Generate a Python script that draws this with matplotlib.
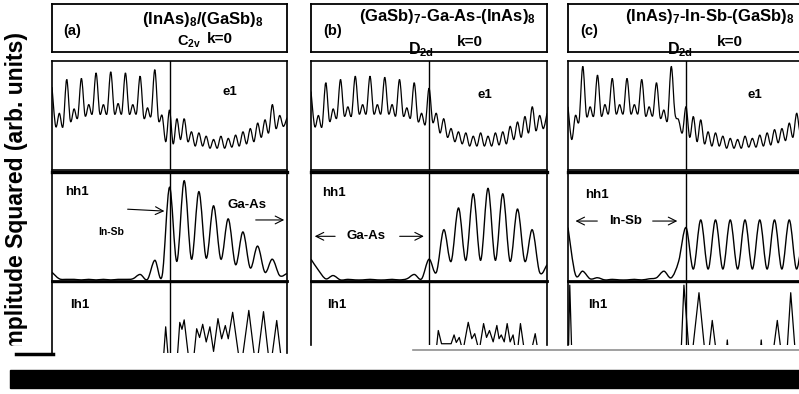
import numpy as np
import matplotlib
matplotlib.use('Agg')
import matplotlib.pyplot as plt
from matplotlib.patches import Rectangle, PathPatch
from matplotlib.lines import Line2D
from matplotlib.path import Path

plt.rcParams['font.family'] = ['Liberation Sans', 'DejaVu Sans']
plt.rcParams['font.weight'] = 'bold'
plt.rcParams['mathtext.fontset'] = 'custom'
plt.rcParams['mathtext.rm'] = 'Liberation Sans:bold'
plt.rcParams['mathtext.bf'] = 'Liberation Sans:bold'
plt.rcParams['mathtext.it'] = 'Liberation Sans:bold'
plt.rcParams['mathtext.default'] = 'rm'

# ---------------------------------------------------------------
#   data: |psi|^2, x in monolayers (0..16)
# ---------------------------------------------------------------
# e1: per monolayer [peak, dip, side-bump, dip], sampled every 1/4 ML
e1_a = [[0.76, 0.40, 0.52, 0.40], [0.83, 0.45, 0.56, 0.48], [0.84, 0.50, 0.60, 0.52],
        [0.89, 0.52, 0.60, 0.52], [0.90, 0.52, 0.61, 0.52], [0.89, 0.52, 0.60, 0.52],
        [0.86, 0.48, 0.57, 0.50], [0.92, 0.46, 0.50, 0.26], [0.55, 0.24, 0.47, 0.28],
        [0.47, 0.26, 0.35, 0.22], [0.34, 0.22, 0.31, 0.20], [0.28, 0.20, 0.31, 0.20],
        [0.29, 0.21, 0.32, 0.22], [0.35, 0.24, 0.38, 0.26], [0.43, 0.30, 0.46, 0.34],
        [0.60, 0.38, 0.50, 0.40], [0.48]]
e1_b = [[0.72, 0.40, 0.50, 0.40], [0.80, 0.45, 0.56, 0.48], [0.83, 0.50, 0.58, 0.50],
        [0.86, 0.52, 0.60, 0.52], [0.86, 0.52, 0.60, 0.52], [0.85, 0.52, 0.60, 0.50],
        [0.83, 0.50, 0.57, 0.48], [0.80, 0.45, 0.52, 0.42], [0.75, 0.44, 0.52, 0.34],
        [0.47, 0.30, 0.38, 0.26], [0.35, 0.24, 0.34, 0.22], [0.31, 0.22, 0.34, 0.22],
        [0.31, 0.22, 0.34, 0.23], [0.35, 0.24, 0.40, 0.28], [0.44, 0.30, 0.49, 0.34],
        [0.58, 0.36, 0.50, 0.38], [0.52]]
e1_c = [[0.58, 0.28, 0.50, 0.45], [0.95, 0.50, 0.58, 0.50], [0.87, 0.50, 0.60, 0.52],
        [0.84, 0.52, 0.60, 0.52], [0.84, 0.52, 0.60, 0.52], [0.83, 0.50, 0.58, 0.50],
        [0.80, 0.48, 0.55, 0.46], [0.95, 0.52, 0.46, 0.34], [0.58, 0.30, 0.49, 0.26],
        [0.46, 0.24, 0.35, 0.22], [0.34, 0.22, 0.31, 0.20], [0.29, 0.20, 0.28, 0.20],
        [0.31, 0.21, 0.29, 0.21], [0.32, 0.22, 0.34, 0.23], [0.37, 0.25, 0.38, 0.27],
        [0.43, 0.30, 0.52, 0.35], [0.60]]

# hh1: sampled every 1/2 ML
hh1_a = [0.08, 0.02, 0.015, 0.015, 0.01, 0.015, 0.01, 0.015, 0.01, 0.015, 0.015,
         0.02, 0.06, 0.015, 0.19, 0.05, 0.86, 0.18, 0.92, 0.20, 0.82, 0.21, 0.69,
         0.20, 0.57, 0.15, 0.45, 0.12, 0.32, 0.08, 0.20, 0.05, 0.07]
hh1_b = [0.20, 0.10, 0.02, 0.05, 0.01, 0.015, 0.01, 0.01, 0.015, 0.01, 0.01,
         0.015, 0.01, 0.02, 0.06, 0.02, 0.20, 0.08, 0.47, 0.18, 0.67, 0.19, 0.80,
         0.19, 0.85, 0.19, 0.80, 0.18, 0.66, 0.18, 0.47, 0.08, 0.15]
hh1_c = [0.49, 0.06, 0.09, 0.02, 0.03, 0.01, 0.015, 0.01, 0.01, 0.015, 0.01,
         0.02, 0.03, 0.09, 0.03, 0.18, 0.49, 0.11, 0.56, 0.11, 0.56, 0.11, 0.56,
         0.11, 0.56, 0.11, 0.56, 0.11, 0.56, 0.11, 0.56, 0.11, 0.56]

# lh1: only the tops of the peaks survive in the scan
lh1_a_x = [0, 7.5, 7.74, 7.95, 8.5, 8.7, 8.85, 9.0, 9.35, 9.65, 9.85, 10.05, 10.26, 10.5,
           10.75, 11.0, 11.3, 11.55, 11.8, 12.0, 12.3, 12.85, 13.4, 13.9, 14.4, 14.85,
           15.3, 15.7, 16]
lh1_a_y = [-0.5, -0.5, 0.29, -0.3, -0.3, 0.36, 0.25, 0.40, -0.3, -0.2, 0.26, 0.12, 0.33,
           0.05, 0.29, -0.1, 0.42, 0.10, 0.31, 0.10, 0.52, -0.4, 0.55, -0.4, 0.53, -0.4,
           0.39, -0.4, -0.5]
lh1_b_x = [0, 8.3, 8.63, 8.85, 9.5, 9.7, 9.85, 10.05, 10.3, 10.66, 10.9, 11.1, 11.4, 11.7,
           11.9, 12.1, 12.35, 12.6, 12.75, 12.9, 13.1, 13.3, 13.5, 13.7, 13.95, 14.2,
           14.65, 15.2, 15.6, 16]
lh1_b_y = [-0.5, -0.5, 0.23, 0.02, 0.02, 0.16, 0.04, 0.12, -0.1, 0.36, 0.10, 0.18, -0.1,
           0.34, 0.12, 0.23, 0.05, 0.31, 0.10, 0.16, 0.05, 0.34, 0.05, 0.16, -0.2, 0.34,
           -0.4, 0.18, -0.4, -0.5]
lh1_c_x = [0, 0.12, 0.3, 7.6, 7.86, 8.3, 8.88, 9.4, 9.78, 10.2, 10.65, 10.8, 10.95, 12.95,
           13.1, 13.25, 13.75, 14.19, 14.6, 14.85, 15.1, 15.4, 16]
lh1_c_y = [-0.5, 0.95, -0.5, -0.5, 0.95, -0.4, 0.83, -0.4, 0.39, -0.4, -0.4, 0.08, -0.4,
           -0.4, 0.08, -0.4, -0.4, 0.39, -0.4, -0.1, 0.83, -0.1, -0.5]

tags = ['(a)', '(b)', '(c)']
structures = ['(InAs)$_8$/(GaSb)$_8$', '(GaSb)$_7$-Ga-As-(InAs)$_8$', '(InAs)$_7$-In-Sb-(GaSb)$_8$']
symmetry = ['C$_{2v}$', 'D$_{2d}$', 'D$_{2d}$']
interface = 8

e1_all = [e1_a, e1_b, e1_c]
hh1_all = [hh1_a, hh1_b, hh1_c]
lh1_all = [(lh1_a_x, lh1_a_y), (lh1_b_x, lh1_b_y), (lh1_c_x, lh1_c_y)]

# ---------------------------------------------------------------
#   layout (pixels of the 799x394 picture)
# ---------------------------------------------------------------
W, H = 799, 394
fig = plt.figure(figsize=(W / 100, H / 100), dpi=100)


def box(x0, y0, x1, y1):
    return [x0 / W, 1 - y1 / H, (x1 - x0) / W, (y1 - y0) / H]


def fxy(x, y):
    return x / W, 1 - y / H


def smooth(ax, x, y, lw=0.9):
    # smooth line through the points (Catmull-Rom drawn as bezier segments)
    pts = np.column_stack([x, y]).astype(float)
    ext = np.vstack([pts[0], pts, pts[-1]])
    verts, codes = [pts[0]], [Path.MOVETO]
    for i in range(len(pts) - 1):
        p0, p1, p2, p3 = ext[i], ext[i + 1], ext[i + 2], ext[i + 3]
        verts += [p1 + (p2 - p0) / 6, p2 - (p3 - p1) / 6, p2]
        codes += [Path.CURVE4] * 3
    ax.add_patch(PathPatch(Path(verts, codes), fill=False, ec='k', lw=lw))


cols = [(52, 287), (311, 547), (568, 804)]
lh1_bottom = [353, 345, 345]
sym_pos = [(0.53, 0.22), (0.41, 0.05), (0.42, 0.05)]
sym_size = [10.5, 11.5, 11.5]
k_pos = [(0.66, 0.28), (0.62, 0.20), (0.63, 0.20)]
head_y = [0.67, 0.73, 0.73]
head_x = [0.64, 0.577, 0.60]
e1_lab = [(0.757, 0.72), (0.737, 0.69), (0.79, 0.69)]
hh1_lab = [(0.055, 0.82), (0.047, 0.81), (0.072, 0.79)]
lh1_lab = [(0.077, 0.68), (0.068, 0.635), (0.085, 0.635)]


def clean(ax, lw=1.2):
    ax.set_xticks([])
    ax.set_yticks([])
    for s in ax.spines.values():
        s.set_linewidth(lw)
    ax.set_xlim(0, 16)


x_e1 = np.arange(65) / 4
x_hh1 = np.arange(33) / 2
arr = dict(arrowstyle='->', lw=0.8, color='k', mutation_scale=14)

for j, (x0, x1) in enumerate(cols):
    # header box
    hd = fig.add_axes(box(x0, 4, x1, 52))
    clean(hd, 1.3)
    hd.text(0.05, 0.44, tags[j], transform=hd.transAxes, fontsize=10.5, va='center', ha='left')
    hd.text(head_x[j], head_y[j], structures[j], transform=hd.transAxes, fontsize=12,
            va='center', ha='center')
    hd.text(*sym_pos[j], symmetry[j], transform=hd.transAxes, fontsize=sym_size[j],
            va='center', ha='left')
    hd.text(*k_pos[j], 'k=0', transform=hd.transAxes, fontsize=11, va='center', ha='left')

    # e1
    ax = fig.add_axes(box(x0, 61, x1, 170))
    clean(ax)
    y = np.concatenate([np.ravel(r) for r in e1_all[j]])
    smooth(ax, x_e1, y)
    ax.axvline(interface, color='k', lw=1)
    ax.set_ylim(0, 1)
    ax.text(*e1_lab[j], 'e1', transform=ax.transAxes, fontsize=9.5, ha='center', va='center')

    # hh1
    ax = fig.add_axes(box(x0, 172, x1, 281))
    clean(ax)
    ax.spines['top'].set_linewidth(2.4)
    ax.spines['bottom'].set_linewidth(2.0)
    smooth(ax, x_hh1, hh1_all[j], lw=1.0)
    ax.axvline(interface, color='k', lw=1)
    ax.set_ylim(0, 1)
    ax.text(*hh1_lab[j], 'hh1', transform=ax.transAxes, fontsize=9.5, ha='left', va='center')
    if j == 0:
        ax.annotate('', xy=(0.49, 0.64), xytext=(0.31, 0.66), xycoords='axes fraction', arrowprops=arr)
        ax.text(0.25, 0.45, 'In-Sb', transform=ax.transAxes, fontsize=7.5, ha='center', va='center')
        ax.text(0.83, 0.70, 'Ga-As', transform=ax.transAxes, fontsize=9.5, ha='center', va='center')
        ax.annotate('', xy=(1.0, 0.56), xytext=(0.855, 0.56), xycoords='axes fraction', arrowprops=arr)
    else:
        name = 'Ga-As' if j == 1 else 'In-Sb'
        yy = 0.41 if j == 1 else 0.55
        lx = [(0.114, 0.004, 0.233, 0.364, 0.49), (0.136, 0.02, 0.246, 0.347, 0.475)][j - 1]
        ax.annotate('', xy=(lx[1], yy), xytext=(lx[0], yy), xycoords='axes fraction', arrowprops=arr)
        ax.text(lx[2], yy, name, transform=ax.transAxes, fontsize=9.5, ha='center', va='center')
        ax.annotate('', xy=(lx[4], yy), xytext=(lx[3], yy), xycoords='axes fraction', arrowprops=arr)

    # lh1 (bottom part lost in the scan)
    ax = fig.add_axes(box(x0, 282, x1, lh1_bottom[j]))
    clean(ax)
    ax.spines['bottom'].set_visible(False)
    ax.spines['top'].set_linewidth(1.0)
    ax.plot(*lh1_all[j], color='k', lw=0.9)
    ax.axvline(interface, color='k', lw=1)
    ax.set_ylim(-(lh1_bottom[j] - 345) / 64, 1)
    ax.text(*lh1_lab[j], 'lh1', transform=ax.transAxes, fontsize=9.5, ha='left', va='center')

# y label, its first letter is cut off by the scan
fig.text(*fxy(17, 32), 'Amplitude Squared (arb. units)', rotation=90, fontsize=16.5,
         ha='center', va='top')
fig.add_artist(Rectangle(fxy(0, 369), 48 / W, 23 / H, transform=fig.transFigure,
                         color='white', zorder=10))

# scan artefacts
fig.add_artist(Line2D(*zip(fxy(16, 353.5), fxy(53, 353.5)), transform=fig.transFigure,
                      color='k', lw=2.5, zorder=11))
fig.add_artist(Line2D(*zip(fxy(413, 349.5), fxy(799, 349.5)), transform=fig.transFigure,
                      color='#909090', lw=1.2, zorder=11))
fig.add_artist(Rectangle(fxy(10, 388), 789 / W, 18 / H, transform=fig.transFigure,
                         color='k', zorder=11))

fig.savefig('out.png', dpi=100)
